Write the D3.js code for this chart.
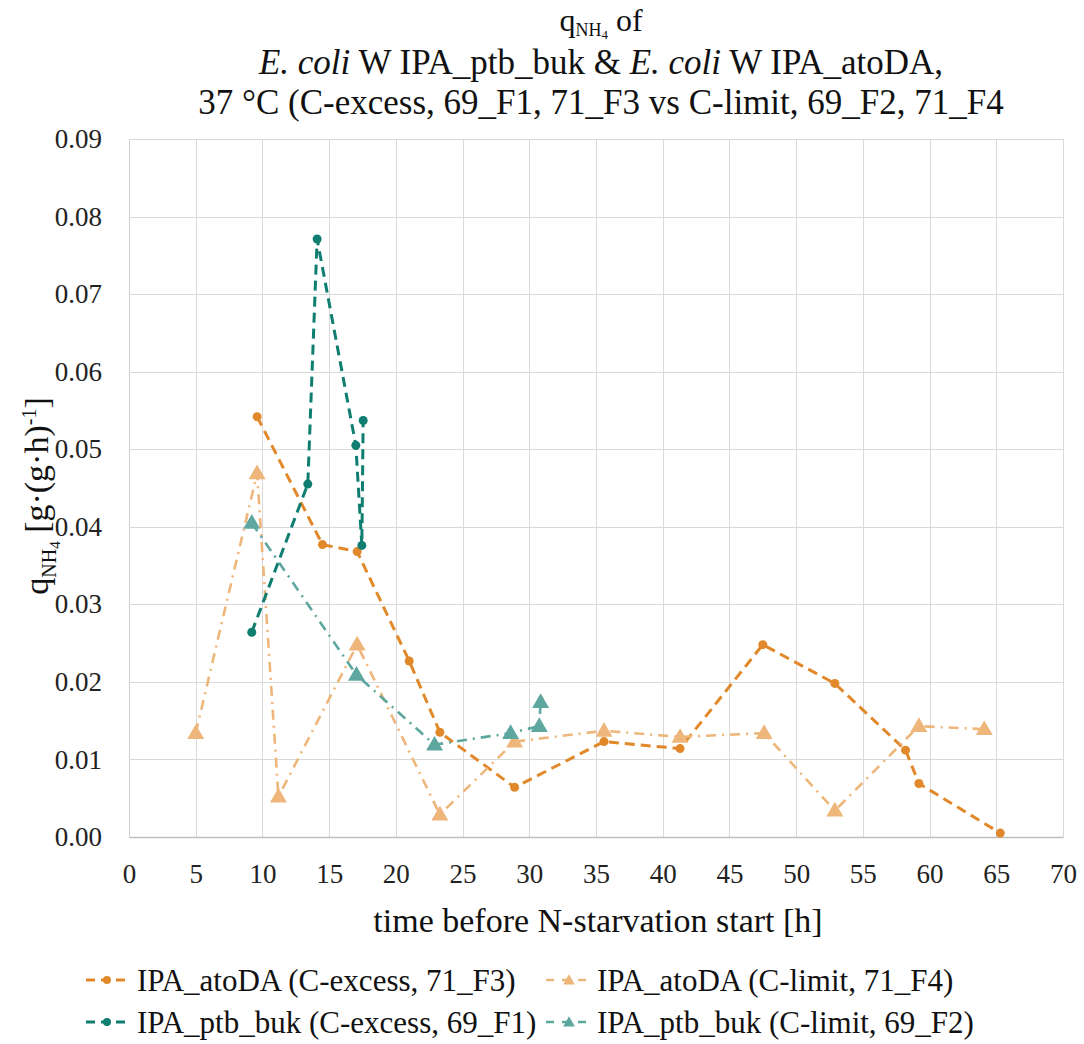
<!DOCTYPE html>
<html>
<head>
<meta charset="utf-8">
<script src="https://d3js.org/d3.v7.min.js"></script>
<style>
	body { margin: 0; background: #fff; }
	svg { display: block; font-family: "Liberation Serif", "DejaVu Serif", serif; }
	.grid line { stroke: #d9d9d9; stroke-width: 1; }
	.tick text { fill: #222; font-size: 27px; font-family: "Liberation Serif", "DejaVu Serif", serif; }
</style>
</head>
<body>
<svg id="chart" width="1084" height="1044"></svg>
<script>
// values
var atoExcessX = [9.6, 14.5, 17.1, 21.0, 23.3, 28.9, 35.6, 41.3, 47.5, 52.9, 58.2, 59.2, 65.3];
var atoExcessY = [0.0542, 0.0377, 0.0368, 0.0227, 0.0135, 0.0064, 0.0123, 0.0114, 0.0248, 0.0198, 0.0112, 0.0069, 0.0005];

var atoLimitX = [5.0, 9.6, 11.2, 17.1, 23.3, 28.9, 35.6, 41.3, 47.6, 52.9, 59.2, 64.1];
var atoLimitY = [0.0134, 0.0469, 0.0052, 0.0248, 0.0029, 0.0123, 0.0137, 0.0129, 0.0134, 0.0034, 0.0143, 0.0139];

var ptbExcessX = [9.2, 13.4, 14.1, 17.0, 17.45, 17.55];
var ptbExcessY = [0.0264, 0.0455, 0.0771, 0.0505, 0.0376, 0.0537];

var ptbLimitX = [9.2, 17.05, 22.9, 28.6, 30.75, 30.85];
var ptbLimitY = [0.0405, 0.0209, 0.0119, 0.0134, 0.0143, 0.0174];

var seriesNames = [
	'IPA_atoDA (C-excess, 71_F3)',
	'IPA_atoDA (C-limit, 71_F4)',
	'IPA_ptb_buk (C-excess, 69_F1)',
	'IPA_ptb_buk (C-limit, 69_F2)'
];

var xTicks = d3.range(0, 71, 5);
var yTicks = d3.range(0, 0.0901, 0.01);

var series = [
	{name: seriesNames[0], xs: atoExcessX, ys: atoExcessY, color: '#e1892a', dash: '10,6', width: 3, marker: 'circle'},
	{name: seriesNames[1], xs: atoLimitX, ys: atoLimitY, color: '#eeb67a', dash: '10,6,2,6', width: 2.6, marker: 'triangle'},
	{name: seriesNames[2], xs: ptbExcessX, ys: ptbExcessY, color: '#0f7e71', dash: '10,6', width: 3, marker: 'circle'},
	{name: seriesNames[3], xs: ptbLimitX, ys: ptbLimitY, color: '#5ea79f', dash: '10,6,2,6', width: 2.6, marker: 'triangle'}
];

var margin = {top: 139, right: 21, bottom: 207, left: 129};
var width = 1084 - margin.left - margin.right,
	height = 1044 - margin.top - margin.bottom;

var svg = d3.select('#chart');

var x = d3.scaleLinear().domain([0, 70]).range([0, width]);
var y = d3.scaleLinear().domain([0, 0.09]).range([height, 0]);

var g = svg.append('g')
	.attr('transform', 'translate(' + margin.left + ',' + margin.top + ')');

//gridlines
var grid = g.append('g').attr('class', 'grid');
grid.selectAll('line.h').data(yTicks).enter().append('line')
	.attr('class', 'h')
	.attr('x1', 0).attr('x2', width)
	.attr('y1', function(d){ return Math.round(y(d)) + 0.5; })
	.attr('y2', function(d){ return Math.round(y(d)) + 0.5; });
grid.selectAll('line.v').data(xTicks).enter().append('line')
	.attr('class', 'v')
	.attr('y1', 0).attr('y2', height)
	.attr('x1', function(d){ return Math.round(x(d)) + 0.5; })
	.attr('x2', function(d){ return Math.round(x(d)) + 0.5; });

//axes
var xAxis = g.append('g')
	.attr('transform', 'translate(0,' + height + ')')
	.call(d3.axisBottom(x).tickValues(xTicks).tickSize(0).tickPadding(27).tickFormat(d3.format('d')));
xAxis.select('.domain').attr('stroke', '#bfbfbf').attr('stroke-width', 1.5);

var yAxis = g.append('g')
	.call(d3.axisLeft(y).tickValues(yTicks).tickSize(0).tickPadding(27).tickFormat(d3.format('.2f')));
yAxis.select('.domain').attr('stroke', '#d0d0d0').attr('stroke-width', 1);

//lines and markers
var line = d3.line()
	.x(function(d){ return x(d[0]); })
	.y(function(d){ return y(d[1]); });

function drawMarker(sel, s, cx, cy, small) {
	if (s.marker === 'circle') {
		sel.append('circle')
			.attr('cx', cx).attr('cy', cy).attr('r', small ? 4 : 4.5)
			.attr('fill', s.color);
	} else {
		sel.append('path')
			.attr('d', d3.symbol().type(d3.symbolTriangle).size(small ? 60 : 125)())
			.attr('transform', 'translate(' + cx + ',' + (cy + 1) + ')')
			.attr('fill', s.color);
	}
}

series.forEach(function(s){
	var pts = s.xs.map(function(v, i){ return [v, s.ys[i]]; });
	var sg = g.append('g').attr('class', 'series');
	sg.append('path')
		.attr('d', line(pts))
		.attr('fill', 'none')
		.attr('stroke', s.color)
		.attr('stroke-width', s.width)
		.attr('stroke-dasharray', s.dash)
		.attr('stroke-linejoin', 'round');
	pts.forEach(function(p){
		drawMarker(sg, s, x(p[0]), y(p[1]));
	});
});

//title
var title = svg.append('g').attr('class', 'title')
	.attr('text-anchor', 'middle')
	.attr('fill', '#111')
	.attr('font-size', 35);
var cx = margin.left + width / 2 + 5;

var t1 = title.append('text').attr('x', cx).attr('y', 31).attr('font-size', 32);
t1.append('tspan').text('q');
t1.append('tspan').attr('font-size', 18).attr('dy', 5).text('NH');
t1.append('tspan').attr('font-size', 13).attr('dy', 3).text('4');
t1.append('tspan').attr('dy', -8).text(' of');

var t2 = title.append('text').attr('x', cx).attr('y', 74);
t2.append('tspan').attr('font-style', 'italic').text('E. coli');
t2.append('tspan').text(' W IPA_ptb_buk & ');
t2.append('tspan').attr('font-style', 'italic').text('E. coli');
t2.append('tspan').text(' W IPA_atoDA,');

title.append('text').attr('x', cx).attr('y', 114)
	.text('37 °C (C-excess, 69_F1, 71_F3 vs C-limit, 69_F2, 71_F4');

//axis titles
svg.append('text')
	.attr('x', margin.left + width / 2 + 2)
	.attr('y', 932)
	.attr('text-anchor', 'middle')
	.attr('font-size', 34)
	.attr('fill', '#111')
	.text('time before N-starvation start [h]');

var yt = svg.append('text')
	.attr('transform', 'translate(48,' + (margin.top + height / 2 + 8) + ') rotate(-90)')
	.attr('text-anchor', 'middle')
	.attr('font-size', 34)
	.attr('fill', '#111');
yt.append('tspan').text('q');
yt.append('tspan').attr('font-size', 20).attr('dy', 8).text('NH');
yt.append('tspan').attr('font-size', 15).attr('dy', 4).text('4');
yt.append('tspan').attr('dy', -12).text(' [g·(g·h)');
yt.append('tspan').attr('font-size', 20).attr('dy', -12).text('-1');
yt.append('tspan').attr('dy', 12).text(']');

//legend
var legendPos = [
	{sx: 86, ex: 128, mx: 107, tx: 137, y: 980},
	{sx: 546, ex: 593, mx: 569, tx: 597, y: 980},
	{sx: 86, ex: 128, mx: 107, tx: 137, y: 1022},
	{sx: 546, ex: 593, mx: 569, tx: 597, y: 1022}
];

var legend = svg.append('g').attr('class', 'legend');
series.forEach(function(s, i){
	var p = legendPos[i];
	var lg = legend.append('g');
	lg.append('line')
		.attr('x1', p.sx).attr('x2', p.ex)
		.attr('y1', p.y).attr('y2', p.y)
		.attr('stroke', s.color)
		.attr('stroke-width', s.width)
		.attr('stroke-dasharray', s.marker === 'circle' ? '9,6' : '8,8');
	drawMarker(lg, s, p.mx, p.y, true);
	lg.append('text')
		.attr('x', p.tx).attr('y', p.y)
		.attr('dy', '0.35em')
		.attr('font-size', 31)
		.attr('fill', '#111')
		.text(s.name);
});
</script>
</body>
</html>
